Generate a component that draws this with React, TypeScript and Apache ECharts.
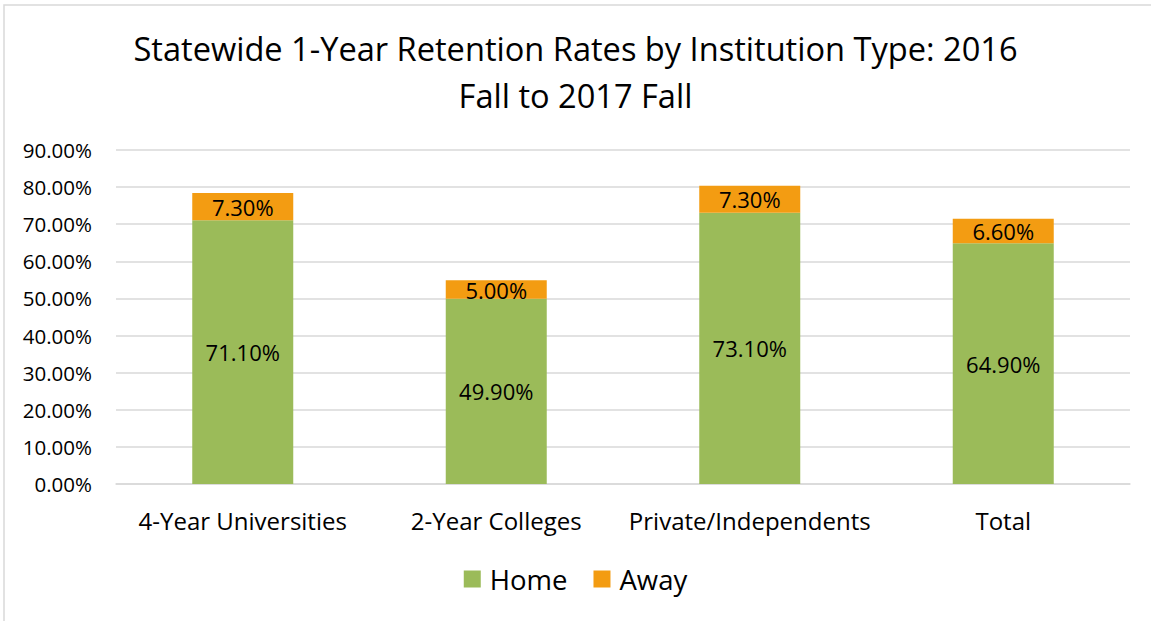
import React, { useEffect, useRef } from "react";
import * as echarts from "echarts";

const categories = ["4-Year Universities", "2-Year Colleges", "Private/Independents", "Total"];
const homeValues = [71.1, 49.9, 73.1, 64.9];
const awayValues = [7.3, 5.0, 7.3, 6.6];
const titleText = "Statewide 1-Year Retention Rates by Institution Type: 2016\nFall to 2017 Fall";

const FONT = "'Open Sans', 'Noto Sans', sans-serif";

export default function App() {
  const ref = useRef<HTMLDivElement>(null);
  useEffect(() => {
    if (!ref.current) return;
    const chart = echarts.init(ref.current, undefined, { renderer: "svg" });
    const fmt = (v: number) => v.toFixed(2) + "%";
    chart.setOption({
      animation: false,
      backgroundColor: "#ffffff",
      textStyle: { fontFamily: FONT },
      title: {
        text: titleText,
        left: "center",
        top: 20,
        textStyle: {
          fontFamily: FONT,
          fontSize: 32.6,
          fontWeight: "normal",
          color: "#000000",
          lineHeight: 47,
        },
      },
      legend: {
        data: ["Home", "Away"],
        bottom: 23,
        left: "center",
        itemWidth: 17,
        itemHeight: 17,
        itemGap: 26,
        icon: "rect",
        textStyle: { fontFamily: FONT, fontSize: 27.5, color: "#000000", padding: [0, 0, 0, 4] },
      },
      grid: { left: 116, right: 21, top: 150, bottom: 137 },
      xAxis: {
        type: "category",
        data: categories,
        axisLine: { lineStyle: { color: "#D9D9D9", width: 1.5 } },
        axisTick: { show: false },
        axisLabel: { interval: 0, fontFamily: FONT, fontSize: 24, color: "#000000", margin: 24 },
      },
      yAxis: {
        type: "value",
        min: 0,
        max: 90,
        interval: 10,
        axisLine: { show: false },
        axisTick: { show: false },
        splitLine: { lineStyle: { color: "#D9D9D9", width: 1.5 } },
        axisLabel: {
          fontFamily: FONT,
          fontSize: 20.5,
          color: "#000000",
          margin: 24,
          formatter: (v: number) => fmt(v),
        },
      },
      series: [
        {
          name: "Home",
          type: "bar",
          stack: "total",
          data: homeValues,
          barWidth: 101,
          itemStyle: { color: "#9BBB59" },
          label: {
            show: true,
            position: "inside",
            fontFamily: FONT,
            fontSize: 22,
            color: "#000000",
            formatter: (p: any) => fmt(p.value),
          },
        },
        {
          name: "Away",
          type: "bar",
          stack: "total",
          data: awayValues,
          barWidth: 101,
          itemStyle: { color: "#F39C12" },
          label: {
            show: true,
            position: "inside",
            fontFamily: FONT,
            fontSize: 22,
            color: "#000000",
            formatter: (p: any) => fmt(p.value),
          },
        },
      ],
      graphic: [
        {
          type: "polyline",
          shape: { points: [[4, 621], [4, 5], [1151, 5]] },
          style: { stroke: "#D9D9D9", lineWidth: 1.5, fill: "none" },
          silent: true,
        },
      ],
    });
    return () => chart.dispose();
  }, []);
  return (
    <div
      ref={ref}
      style={{ position: "fixed", left: 0, top: 0, width: 1151, height: 621 }}
    />
  );
}
